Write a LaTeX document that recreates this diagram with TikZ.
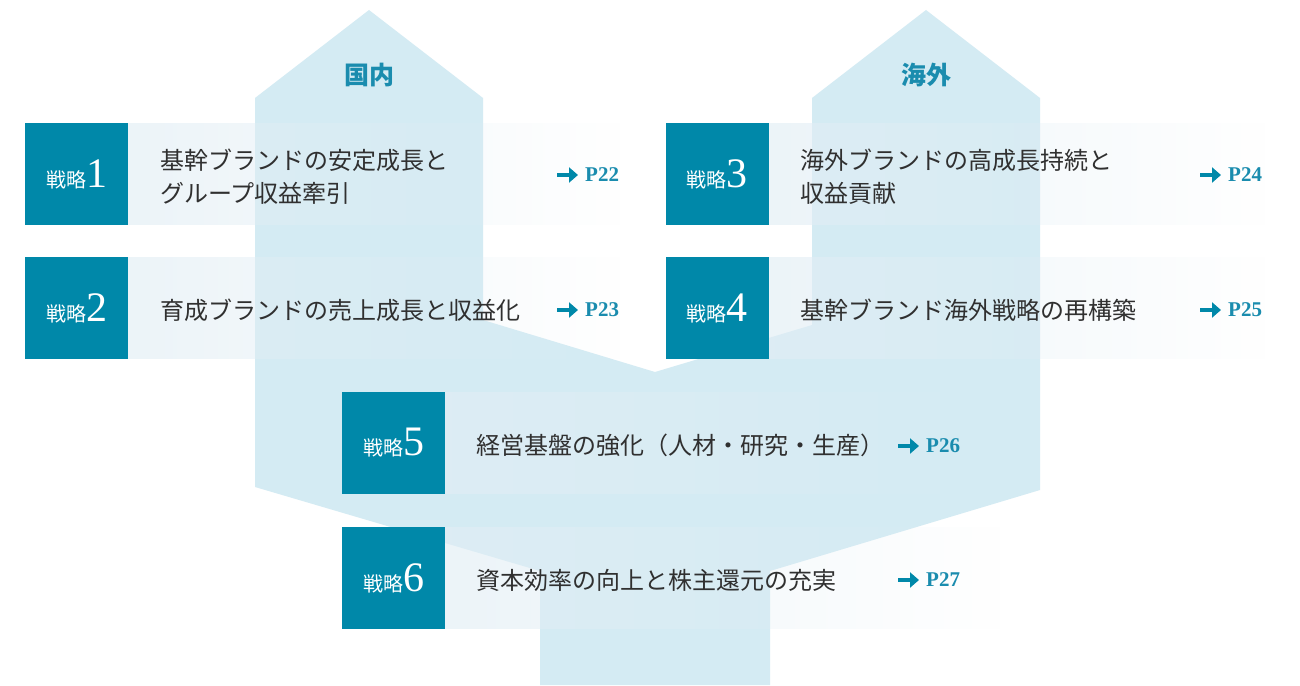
\documentclass[tikz,border=0pt]{standalone}
\usepackage{fontspec}
\setmainfont{Liberation Serif}
\newfontfamily\jp{Noto Sans CJK JP}
\usetikzlibrary{fadings,arrows.meta}
\definecolor{tealdark}{HTML}{0088A9}
\definecolor{sky}{HTML}{D4EBF3}
\definecolor{panelc}{HTML}{E2EEF5}
\definecolor{lbl}{HTML}{1A8CAE}
\definecolor{txt}{HTML}{303030}
\tikzfading[name=panelfade, left color=transparent!0, right color=transparent!100]
\newcommand{\senryaku}[1]{{\jp\fontsize{20}{20}\selectfont 戦略}{\fontsize{42}{42}\selectfont #1}}
\begin{document}
\begin{tikzpicture}[x=1pt,y=-1pt,
  darkbox/.style={fill=tealdark, minimum width=103pt, minimum height=102pt, inner sep=0pt, text=white},
  panelbox/.style={fill=panelc, fill opacity=0.65, path fading=panelfade},
  maintext/.style={anchor=west, align=left, inner sep=0pt, text=txt, font=\jp\fontsize{24}{33}\selectfont},
  pagelbl/.style={anchor=west, inner sep=0pt, text=lbl, font=\bfseries\fontsize{21}{21}\selectfont},
  parrow/.style={draw=tealdark, line width=4.5pt, -{Triangle[length=9pt,width=15pt]}},
  arealbl/.style={text=lbl, font=\jp\bfseries\fontsize{25}{25}\selectfont},
]
\useasboundingbox (0,0) rectangle (1300,685);
\fill[white] (0,0) rectangle (1300,685);
% background flow shape
\fill[sky] (369,10) -- (483,98) -- (483,320) -- (655,372) -- (812,325) -- (812,98)
  -- (926,10) -- (1040,98) -- (1040,490) -- (770,571) -- (770,685) -- (540,685)
  -- (540,571) -- (255,487) -- (255,98) -- cycle;
\node[arealbl] (dom) at (369,75) {国内};
\node[arealbl] (ovs) at (926,75) {海外};

% boxes
\node[darkbox] (s1) at (76.5,174) {\senryaku{1}};
\node[darkbox] (s2) at (76.5,308) {\senryaku{2}};
\node[darkbox] (s3) at (717,174) {\senryaku{3}};
\node[darkbox] (s4) at (717,308) {\senryaku{4}};
\node[darkbox] (s5) at (393.5,443) {\senryaku{5}};
\node[darkbox] (s6) at (393.5,578) {\senryaku{6}};

\fill[panelbox] (s1.north east) rectangle ++(492,102);
\fill[panelbox] (s2.north east) rectangle ++(492,102);
\fill[panelbox] (s3.north east) rectangle ++(497,102);
\fill[panelbox] (s4.north east) rectangle ++(497,102);
\fill[panelbox] (s5.north east) rectangle ++(555,102);
\fill[panelbox] (s6.north east) rectangle ++(555,102);

\node[maintext] (t1) at (160,176.5) {基幹ブランドの安定成長と\\グループ収益牽引};
\node[maintext] (t2) at (160,310) {育成ブランドの売上成長と収益化};
\node[maintext] (t3) at (800,176.5) {海外ブランドの高成長持続と\\収益貢献};
\node[maintext] (t4) at (800,310) {基幹ブランド海外戦略の再構築};
\node[maintext] (t5) at (476,445) {経営基盤の強化（人材・研究・生産）};
\node[maintext] (t6) at (476,580) {資本効率の向上と株主還元の充実};

\node[pagelbl] (r1) at (585,175) {P22};
\node[pagelbl] (r2) at (585,310) {P23};
\node[pagelbl] (r3) at (1228,175) {P24};
\node[pagelbl] (r4) at (1228,310) {P25};
\node[pagelbl] (r5) at (926,446) {P26};
\node[pagelbl] (r6) at (926,580) {P27};
\foreach \r in {r1,r2,r3,r4,r5,r6}{
  \draw[parrow] ([xshift=-28pt]\r.west) -- ([xshift=-7pt]\r.west);
}
\end{tikzpicture}
\end{document}
